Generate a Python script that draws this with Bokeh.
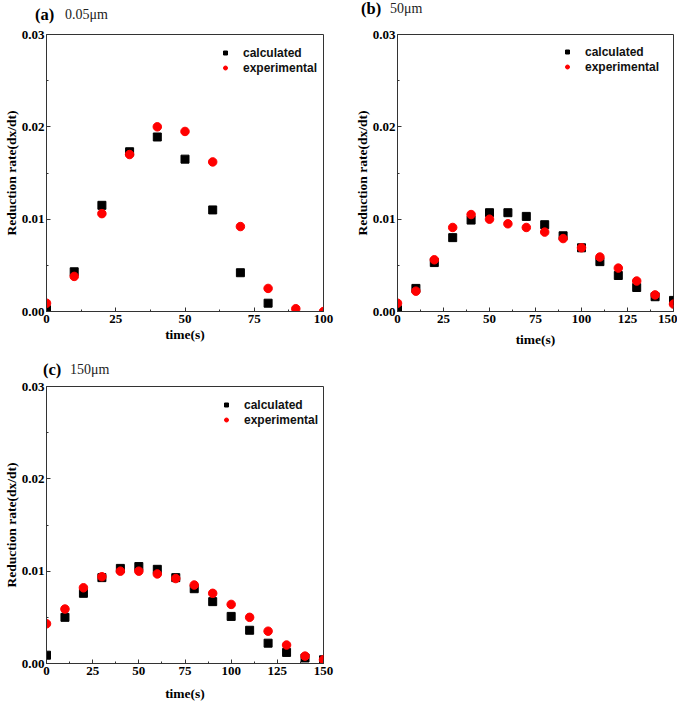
from bokeh.plotting import figure
from bokeh.layouts import column, row
from bokeh.models import (Range1d, FixedTicker, NumeralTickFormatter,
                          Legend, LegendItem, Div)
from bokeh.embed import file_html
from bokeh.resources import INLINE

# ---------------- data ----------------
# panel (a) 0.05 um
time_a_calc = [0, 10, 20, 30, 40, 50, 60, 70, 80]
calc_a = [0.0002, 0.0043, 0.0115, 0.0173, 0.0189, 0.0165, 0.0110, 0.0042, 0.0009]
time_a_exp = [0, 10, 20, 30, 40, 50, 60, 70, 80, 90, 100]
exp_a = [0.0009, 0.0038, 0.0106, 0.0170, 0.0200, 0.0195, 0.0162, 0.0092, 0.0025, 0.0003, 0.0000]

# panel (b) 50 um
time_b = [0, 10, 20, 30, 40, 50, 60, 70, 80, 90, 100, 110, 120, 130, 140, 150]
calc_b = [0.0002, 0.0025, 0.0053, 0.0080, 0.0099, 0.0107, 0.0107, 0.0103, 0.0094,
          0.0082, 0.0069, 0.0054, 0.0039, 0.0026, 0.0016, 0.0012]
exp_b = [0.0009, 0.0022, 0.0056, 0.0091, 0.0105, 0.0100, 0.0095, 0.0091, 0.0086,
         0.0079, 0.0069, 0.0059, 0.0047, 0.0033, 0.0018, 0.0008]

# panel (c) 150 um
time_c = [0, 10, 20, 30, 40, 50, 60, 70, 80, 90, 100, 110, 120, 130, 140, 150]
calc_c = [0.0009, 0.0050, 0.0076, 0.0093, 0.0103, 0.0105, 0.0102, 0.0093, 0.0081,
          0.0067, 0.0051, 0.0036, 0.0022, 0.0012, 0.0006, 0.0004]
exp_c = [0.0043, 0.0059, 0.0082, 0.0094, 0.0100, 0.0100, 0.0097, 0.0092, 0.0085,
         0.0076, 0.0064, 0.0050, 0.0035, 0.0020, 0.0008, 0.0004]

y_ticks = [0.0, 0.01, 0.02, 0.03]
y_minor = [0.005, 0.015, 0.025]
x_ticks_a = [0, 25, 50, 75, 100]
x_minor_a = [12.5, 37.5, 62.5, 87.5]
x_ticks_bc = [0, 25, 50, 75, 100, 125, 150]
x_minor_bc = [12.5, 37.5, 62.5, 87.5, 112.5, 137.5]

letters = ["(a)", "(b)", "(c)"]
sizes = ["0.05\u03bcm", "50\u03bcm", "150\u03bcm"]
series_names = ["calculated", "experimental"]
x_title = "time(s)"
y_title = "Reduction rate(dx/dt)"

SERIF = "Liberation Serif"
SANS = "Liberation Sans"
FRAME = "#333333"


def header(width, height, letter, size, let_pos, size_pos):
    """Title strip above a panel: bold letter + regular particle size."""
    html = (
        f'<div style="position:relative;width:{width}px;height:{height}px;'
        f"font-family:'{SERIF}',serif;margin:0;padding:0;\">"
        f'<span style="position:absolute;left:{let_pos[0]}px;top:{let_pos[1]}px;'
        f'font-weight:bold;font-size:16.5px;line-height:16px;color:#000;'
        f'white-space:nowrap;">{letter}</span>'
        f'<span style="position:absolute;left:{size_pos[0]}px;top:{size_pos[1]}px;'
        f'font-weight:normal;font-size:14px;line-height:14px;color:#222;'
        f'white-space:nowrap;">{size}</span></div>'
    )
    return Div(text=html, width=width, height=height,
               styles={"margin": "0", "padding": "0"})


def panel(tc, yc, te, ye, xmax, xt, xm, width, height,
          bl, br, bt, bb, leg_xy, xlab_standoff):
    p = figure(width=width, height=height, output_backend="svg",
               toolbar_location=None, x_range=Range1d(0, xmax),
               y_range=Range1d(0, 0.03), min_border_left=bl,
               min_border_right=br, min_border_top=bt, min_border_bottom=bb)
    p.xgrid.visible = False
    p.ygrid.visible = False
    p.background_fill_color = "white"
    p.border_fill_color = "white"
    p.outline_line_color = FRAME
    p.outline_line_width = 1

    r1 = p.scatter(tc, yc, marker="square", size=8, color="black")
    r2 = p.scatter(te, ye, marker="circle", size=8.5, color="#ff0000")

    p.xaxis.ticker = FixedTicker(ticks=xt, minor_ticks=xm)
    p.yaxis.ticker = FixedTicker(ticks=y_ticks, minor_ticks=y_minor)
    p.yaxis.formatter = NumeralTickFormatter(format="0.00")
    for ax in (p.xaxis[0], p.yaxis[0]):
        ax.axis_line_color = FRAME
        ax.major_tick_line_color = FRAME
        ax.minor_tick_line_color = FRAME
        ax.major_tick_in = 4
        ax.major_tick_out = 0
        ax.minor_tick_in = 2
        ax.minor_tick_out = 0
        ax.major_label_text_font = SERIF
        ax.major_label_text_font_style = "bold"
        ax.major_label_text_font_size = "13px"
        ax.major_label_text_color = "black"
        ax.axis_label_text_font = SERIF
        ax.axis_label_text_font_style = "bold"
        ax.axis_label_text_color = "black"
    p.xaxis.major_label_standoff = 3
    p.yaxis.major_label_standoff = 2
    p.xaxis.axis_label = x_title
    p.xaxis.axis_label_text_font_size = "13.5px"
    p.xaxis.axis_label_standoff = xlab_standoff
    p.yaxis.axis_label = y_title
    p.yaxis.axis_label_text_font_size = "13.5px"
    p.yaxis.axis_label_standoff = 0

    leg = Legend(items=[LegendItem(label=series_names[0], renderers=[r1]),
                        LegendItem(label=series_names[1], renderers=[r2])],
                 location=leg_xy, border_line_color=None,
                 background_fill_alpha=0, padding=0, margin=0, spacing=0,
                 label_height=15, glyph_height=15, glyph_width=10,
                 label_standoff=13, label_text_font=SANS,
                 label_text_font_style="bold", label_text_font_size="12px",
                 label_text_color="#111111")
    p.add_layout(leg)
    return p


ha = header(345, 26, letters[0], sizes[0], (35, 7), (65, 8))
pa = panel(time_a_calc, calc_a, time_a_exp, exp_a, 100, x_ticks_a, x_minor_a,
           width=345, height=326, bl=45, br=22, bt=8, bb=41,
           leg_xy=(174, 236), xlab_standoff=1)
hb = header(332, 26, letters[1], sizes[1], (16, 1), (45, 2))
pb = panel(time_b, calc_b, time_b, exp_b, 150, x_ticks_bc, x_minor_bc,
           width=332, height=326, bl=52, br=4, bt=8, bb=41,
           leg_xy=(165, 237), xlab_standoff=6)
hc = header(345, 26, letters[2], sizes[2], (43, 10), (70, 11))
pc = panel(time_c, calc_c, time_c, exp_c, 150, x_ticks_bc, x_minor_bc,
           width=345, height=327, bl=45, br=22, bt=8, bb=42,
           leg_xy=(175, 236), xlab_standoff=8)

layout = column(row(column(ha, pa), column(hb, pb)), column(hc, pc))

open("out.html", "w").write(file_html(layout, INLINE))
